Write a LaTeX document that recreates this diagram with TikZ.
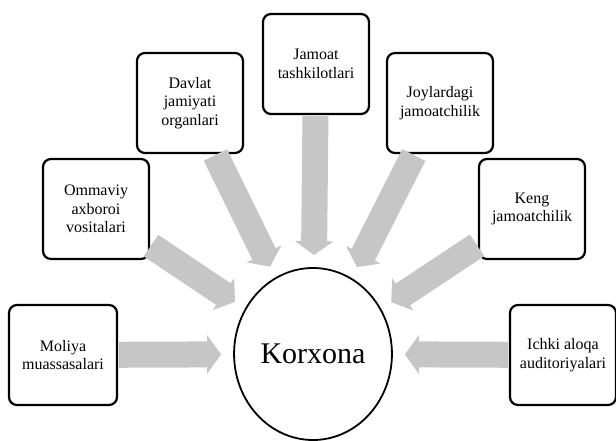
\documentclass[tikz,border=0pt]{standalone}
\usepackage{fontspec}
\setmainfont{Liberation Serif}
\usetikzlibrary{arrows.meta,shapes.geometric}

\begin{document}
\begin{tikzpicture}[x=1pt,y=-1pt,
  group/.style={draw,line width=2.2pt,rounded corners=8pt,minimum width=106pt,
    minimum height=100pt,align=center,font=\fontsize{16}{18.5}\selectfont},
  flow/.style={line width=26pt,draw=gray!45,shorten <=1pt,shorten >=12pt,
    -{Triangle[width=38pt,length=14pt]}}]
\useasboundingbox (0,0) rectangle (616,441);

\node[draw,ellipse,line width=1.8pt,minimum width=152pt,minimum height=172pt,
  font=\fontsize{30}{34}\selectfont] (korxona) at (313,354) {Korxona};

\node[group,minimum width=108pt] (moliya) at (63,355) {Moliya\\muassasalari};
\node[group] (ommaviy) at (96,209) {Ommaviy\\axboroi\\vositalari};
\node[group] (davlat) at (190,103) {Davlat\\jamiyati\\organlari};
\node[group] (jamoat) at (316,64) {Jamoat\\tashkilotlari};
\node[group] (joylar) at (440,103) {Joylardagi\\jamoatchilik};
\node[group] (keng) at (532,209) {Keng\\jamoatchilik};
\node[group] (ichki) at (563,355) {Ichki aloqa\\auditoriyalari};

\draw[flow] (moliya) -- (korxona);
\draw[flow] (ommaviy) -- (korxona);
\draw[flow] (davlat) -- (korxona);
\draw[flow] (jamoat) -- (korxona);
\draw[flow] (joylar) -- (korxona);
\draw[flow] (keng) -- (korxona);
\draw[flow] (ichki) -- (korxona);
\end{tikzpicture}
\end{document}
